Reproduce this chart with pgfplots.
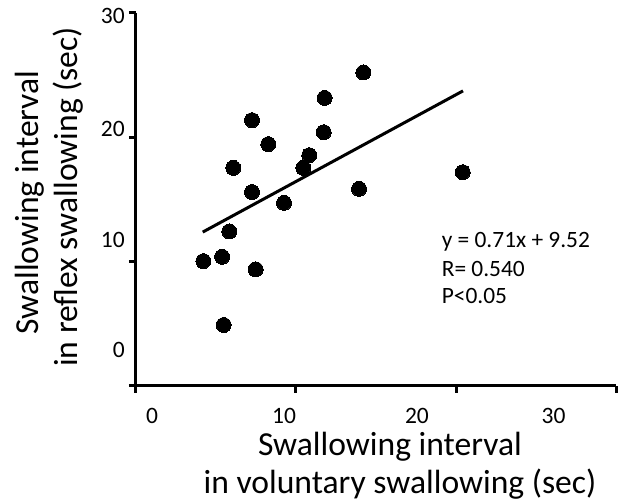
\documentclass[border=0pt]{standalone}
\usepackage{pgfplots}
\pgfplotsset{compat=1.18}
\usepackage{fontspec}
\setmainfont{Carlito}
\begin{document}
\begin{tikzpicture}
\useasboundingbox (-136pt,-115.4pt) rectangle (497pt,385.6pt);
\begin{axis}[
  at={(0,0)}, anchor=origin,
  x=16pt, y=12.42pt,
  xmin=0, xmax=30, ymin=0, ymax=30,
  axis x line*=bottom, axis y line*=left,
  axis line style={line width=3pt, black},
  xtick={0,10,20,30}, ytick={0,10,20,30},
  xticklabels={}, yticklabels={},
  tick align=outside, major tick length=7pt,
  every tick/.style={black, line width=3pt},
  extra x ticks={1.0,9.25,17.56,26.1},
  extra x tick labels={0,10,20,30},
  extra y ticks={2.86,11.71,20.64,29.8},
  extra y tick labels={0,10,20,30},
  extra x tick style={major tick length=0pt, xticklabel style={anchor=center, inner sep=0pt, yshift=-30pt}},
  extra y tick style={major tick length=0pt, yticklabel style={anchor=east, inner sep=0pt, xshift=-11pt}},
  tick label style={font=\fontsize{23.5}{28}\selectfont},
  clip=false,
]
\addplot[only marks, mark=*, mark size=7.5pt, mark options={fill=black, draw=black, line width=0pt}] coordinates {
(14.21,25.21) (11.79,23.16) (7.25,21.37) (11.73,20.40) (8.27,19.44)
(10.83,18.55) (6.08,17.53) (10.46,17.53) (20.42,17.18) (7.25,15.58)
(13.94,15.84) (9.25,14.71) (5.83,12.41) (4.21,10.02) (5.38,10.37)
(7.48,9.36) (5.48,4.88)
};
\addplot[black, line width=3pt] coordinates {(4.17,12.36) (20.44,23.73)};
\node[anchor=base, inner sep=0pt, font=\fontsize{33.6}{40}\selectfont] at (axis cs:15.875,-5.59) {Swallowing interval};
\node[anchor=base, inner sep=0pt, font=\fontsize{33.6}{40}\selectfont] at (axis cs:16.5,-8.67) {in voluntary swallowing (sec)};
\node[rotate=90, anchor=base, inner sep=0pt, font=\fontsize{33.6}{40}\selectfont] at (axis cs:-6.09,14.74) {Swallowing interval};
\node[rotate=90, anchor=base, inner sep=0pt, font=\fontsize{33.6}{40}\selectfont] at (axis cs:-3.625,15.19) {in reflex swallowing (sec)};
\node[anchor=base west, inner sep=0pt, font=\fontsize{23.4}{28}\selectfont] at (axis cs:19.1,11.08) {y = 0.71x + 9.52};
\node[anchor=base west, inner sep=0pt, font=\fontsize{23.4}{28}\selectfont] at (axis cs:19.1,8.82) {R= 0.540};
\node[anchor=base west, inner sep=0pt, font=\fontsize{23.4}{28}\selectfont] at (axis cs:19.1,6.65) {P<0.05};
\end{axis}
\end{tikzpicture}
\end{document}
